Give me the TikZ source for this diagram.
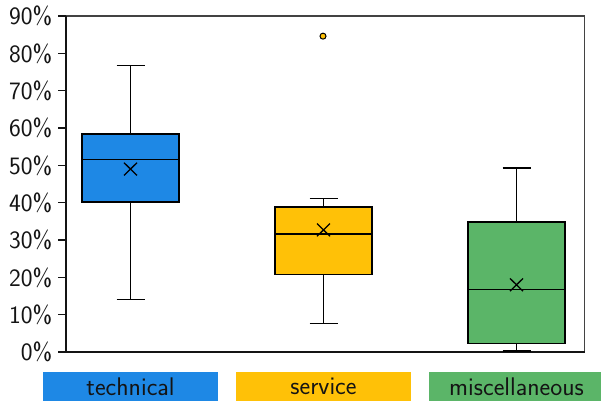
\documentclass[tikz,border=0pt]{standalone}
\usepackage{tikz}
\definecolor{techblue}{RGB}{30,136,229}
\definecolor{servyellow}{RGB}{255,193,7}
\definecolor{miscgreen}{RGB}{91,181,104}
\definecolor{inkdark}{RGB}{20,20,20}
\tikzset{
  axisline/.style={line width=1.5pt, draw=inkdark},
  boxbody/.style={line width=1.5pt, draw=black},
  whisker/.style={line width=1.3pt, draw=black},
  meanmark/.style={line width=1.3pt, draw=black},
  ticklabel/.style={anchor=east, inner sep=0pt, text=inkdark,
    font=\sffamily\fontsize{25}{27}\selectfont},
  legendbox/.style={inner sep=0pt, text=inkdark, minimum height=28.5pt,
    minimum width=175pt, font=\sffamily\fontsize{25.5}{28}\selectfont},
}
% #1 centre x, #2 lower whisker, #3 Q1, #4 median, #5 Q3, #6 upper whisker, #7 mean, #8 fill
\newcommand{\drawboxplot}[8]{%
  \draw[whisker] (#1,#2) -- (#1,#3) (#1,#5) -- (#1,#6);
  \draw[whisker] (#1-14,#2) -- (#1+14,#2) (#1-14,#6) -- (#1+14,#6);
  \draw[boxbody, fill=#8] (#1-48.5,#3) rectangle (#1+48.5,#5);
  \draw[whisker] (#1-48.5,#4) -- (#1+48.5,#4);
  \draw[meanmark] (#1-6.5,#7) ++(0,-1.7) -- ++(13,3.4) (#1-6.5,#7) ++(0,1.7) -- ++(13,-3.4);
}
\begin{document}
\begin{tikzpicture}[x=1pt, y=1pt]
  \useasboundingbox (0,0) rectangle (601,403);
  \begin{scope}[shift={(0,51)}, y=3.7333pt]
    % frame and y ticks
    \draw[line width=1.2pt, draw=inkdark!80] (66,90) -- (584.5,90) -- (584.5,0);
    \draw[axisline] (66,90) -- (66,0) -- (584.5,0);
    \foreach \v in {0,10,...,90} {
      \draw[axisline] (58,\v) -- (66,\v);
      \node[ticklabel] (tick\v) at (52.5,\v) {\v\%};
    }
    % box plots
    \drawboxplot{130.5}{14}{40.2}{51.5}{58.4}{76.8}{49}{techblue}
    \drawboxplot{323.5}{7.6}{20.7}{31.6}{38.9}{41.2}{32.7}{servyellow}
    \drawboxplot{516.5}{0.3}{2.3}{16.8}{34.8}{49.3}{18}{miscgreen}
    % outlier
    \draw[line width=1pt, fill=servyellow] (323,84.6) circle[radius=3pt];
  \end{scope}
  % legend
  \node[legendbox, fill=techblue] (legtech) at (130.5,16.6) {technical};
  \node[legendbox, fill=servyellow] (legserv) at (323.5,16.6) {service};
  \node[legendbox, fill=miscgreen] (legmisc) at (516.5,16.6) {miscellaneous};
\end{tikzpicture}
\end{document}
